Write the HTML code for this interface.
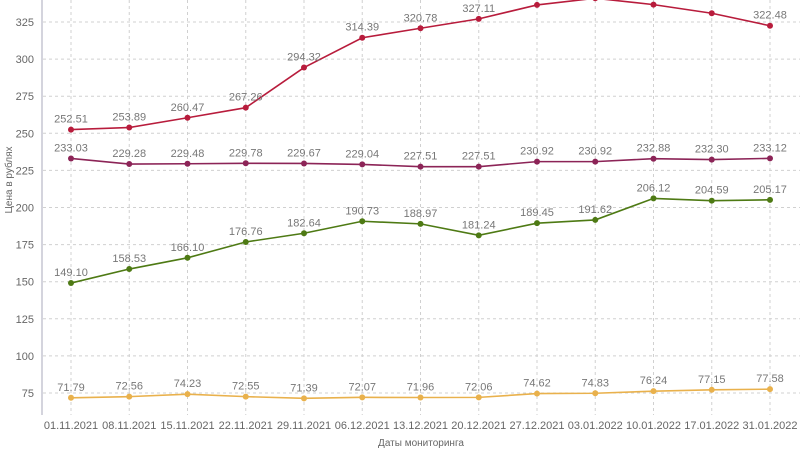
<!DOCTYPE html>
<html><head><meta charset="utf-8"><style>
body{margin:0;background:#fff;}
svg{display:block;font-family:"Liberation Sans","DejaVu Sans",sans-serif;}
</style></head><body>
<svg id="chart" width="800" height="450" viewBox="0 0 800 450"></svg>
<script>
const categories=["01.11.2021","08.11.2021","15.11.2021","22.11.2021","29.11.2021","06.12.2021","13.12.2021","20.12.2021","27.12.2021","03.01.2022","10.01.2022","17.01.2022","31.01.2022"];
const seriesRed=[252.51,253.89,260.47,267.26,294.32,314.39,320.78,327.11,336.5,341,336.7,330.91,322.48];
const seriesPurple=[233.03,229.28,229.48,229.78,229.67,229.04,227.51,227.51,230.92,230.92,232.88,232.30,233.12];
const seriesGreen=[149.10,158.53,166.10,176.76,182.64,190.73,188.97,181.24,189.45,191.62,206.12,204.59,205.17];
const seriesGold=[71.79,72.56,74.23,72.55,71.39,72.07,71.96,72.06,74.62,74.83,76.24,77.15,77.58];
const yTicks=[75,100,125,150,175,200,225,250,275,300,325];
const NS="http://www.w3.org/2000/svg";
const svg=document.getElementById('chart');
const x=i=>71+i*58.25;
const y=v=>393-(v-75)*1.484;
function mk(t,a,p){const e=document.createElementNS(NS,t);for(const k in a)e.setAttribute(k,a[k]);(p||svg).appendChild(e);return e;}
const grid=mk('g',{});


yTicks.forEach(t=>{
  const l=mk('line',{x1:43,x2:800,y1:y(t),y2:y(t),stroke:'#d0d0d0','stroke-dasharray':'3,3'},grid);
  
  
  const tx=mk('text',{x:34,y:y(t)+4,'text-anchor':'end','font-size':11,fill:'#666'});
  tx.textContent=t;
  
  
});
categories.forEach((c,i)=>{
  const l=mk('line',{x1:x(i),x2:x(i),y1:0,y2:415,stroke:'#d0d0d0','stroke-dasharray':'3,3'},grid);
  
  
  const tx=mk('text',{x:x(i),y:429,'text-anchor':'middle','font-size':11,fill:'#666'});
  tx.textContent=c;
  
  
});
const ax=mk('line',{x1:42,x2:42,y1:0,y2:415,stroke:'#aab','stroke-width':1});


const yt=mk('text',{x:0,y:0,transform:'translate(12,180) rotate(-90)','text-anchor':'middle','font-size':10,fill:'#666'});
yt.textContent='Цена в рублях';


const xt=mk('text',{x:421,y:446,'text-anchor':'middle','font-size':10,fill:'#666'});
xt.textContent='Даты мониторинга';


const all=[[seriesRed,'#b81c3c','red'],[seriesPurple,'#8c2457','purple'],[seriesGreen,'#4e7a14','green'],[seriesGold,'#e9b14c','gold']];
all.forEach(([d,col,nm])=>{
  const g=mk('g',{});
  
  
  const p=mk('polyline',{points:d.map((v,i)=>x(i)+','+y(v)).join(' '),fill:'none',stroke:col,'stroke-width':1.6},g);
  
  
  d.forEach((v,i)=>{
    const c=mk('circle',{cx:x(i),cy:y(v),r:3,fill:col},g);
    
    
    if(y(v)-8>8){
      const t=mk('text',{x:x(i),y:y(v)-7,'text-anchor':'middle','font-size':11,fill:'#777'},g);
      t.textContent=v.toFixed(2);
      
      
    }
  });
});
</script>
</body></html>
